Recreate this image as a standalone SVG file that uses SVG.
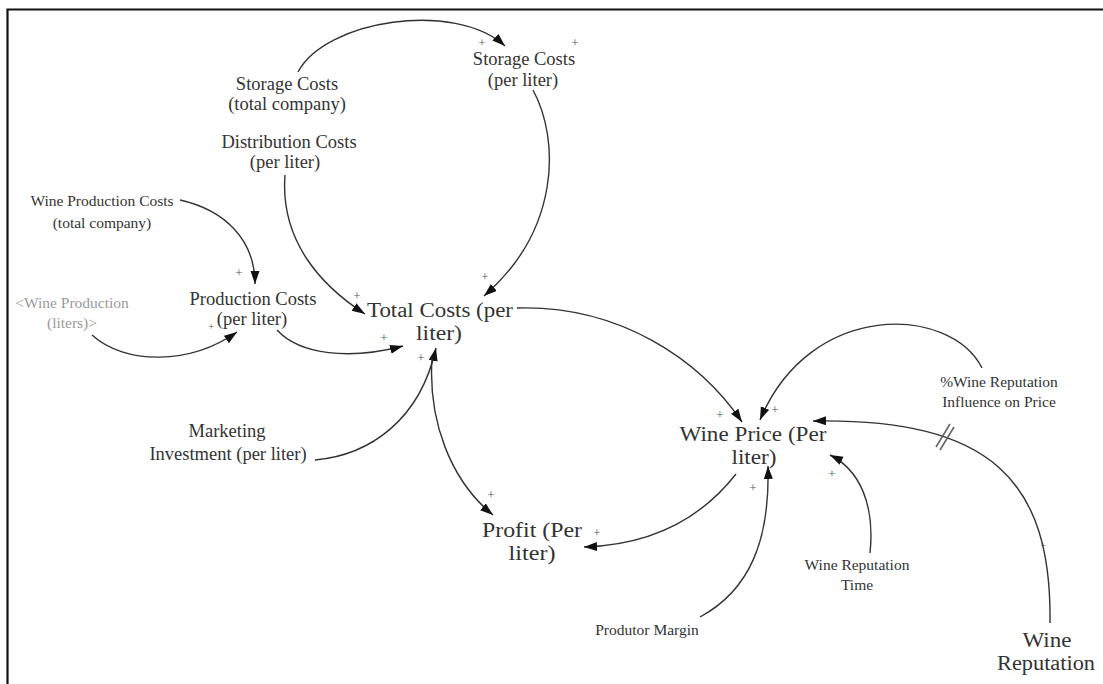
<svg xmlns="http://www.w3.org/2000/svg" width="1103" height="684" viewBox="0 0 1103 684">
  <style>
    .t { font-family: "Liberation Serif", "Tinos", "DejaVu Serif", "Times New Roman", serif; fill: #333; text-anchor: middle; }
    .lg { font-size: 20.5px; }
    .md { font-size: 18.5px; }
    .sm { font-size: 15.5px; }
    .ghost { fill: #9a9a9a; }
    .pol { font-family: "Liberation Serif", "DejaVu Serif", serif; font-size: 13px; fill: #555; text-anchor: middle; }
    .link { fill: none; stroke: #333; stroke-width: 1.4; marker-end: url(#head); }
    .frame { stroke: #111; stroke-width: 2.2; fill: none; }
  </style>
  <defs>
    <marker id="head" markerUnits="userSpaceOnUse" markerWidth="14" markerHeight="10" refX="13" refY="4.5" orient="auto">
      <path d="M0,0 L13,4.5 L0,9 z" fill="#111"/>
    </marker>
  </defs>

  <rect width="1103" height="684" fill="#fff"/>
  <!-- page frame -->
  <path class="frame" d="M7.5,684 L7.5,9.5 L1103,9.5"/>

  <!-- causal links -->
  <g id="connectors">
    <path class="link" d="M298,72 C325,20 455,0 505,46"/>
    <path class="link" d="M533,90 C560,140 560,230 484,296"/>
    <path class="link" d="M285,175 C280,240 320,285 365,314"/>
    <path class="link" d="M180,200 C225,210 255,240 255,284"/>
    <path class="link" d="M92,335 C125,365 190,365 237,332"/>
    <path class="link" d="M277,330 C300,355 350,360 403,346"/>
    <path class="link" d="M315,460 C370,455 420,420 436,348"/>
    <path class="link" d="M432,358 C428,420 450,480 493,515"/>
    <path class="link" d="M517,308 C620,305 700,360 742,422"/>
    <path class="link" d="M982,368 C950,305 810,300 760,420"/>
    <path class="link" d="M1050,623 C1052,480 990,418 813,421"/>
    <path class="link" d="M870,553 C875,505 860,470 830,455"/>
    <path class="link" d="M700,617 C750,590 770,540 768,466"/>
    <path class="link" d="M736,474 C700,520 650,545 584,547"/>
    <!-- delay mark -->
    <path d="M936,447 L950,424 M940,450 L954,427" stroke="#666" stroke-width="1.6" fill="none"/>
    <!-- polarity signs -->
    <text class="pol" x="482" y="47">+</text>
    <text class="pol" x="575" y="47">+</text>
    <text class="pol" x="485" y="281">+</text>
    <text class="pol" x="357" y="300">+</text>
    <text class="pol" x="239" y="277">+</text>
    <text class="pol" x="211" y="330" style="font-size:10px">+</text>
    <text class="pol" x="384" y="342">+</text>
    <text class="pol" x="421" y="362">+</text>
    <text class="pol" x="491" y="499">+</text>
    <text class="pol" x="720" y="419">+</text>
    <text class="pol" x="775" y="414">+</text>
    <text class="pol" x="832" y="478">+</text>
    <text class="pol" x="753" y="492">+</text>
    <text class="pol" x="597" y="537">+</text>
    <text class="pol" x="1043" y="549" style="font-size:10px">+</text>
  </g>

  <g id="storage-total"><text class="t md" x="287" y="90">Storage Costs</text><text class="t md" x="287" y="110">(total company)</text></g>
  <g id="storage-liter"><text class="t md" x="524" y="65">Storage Costs</text><text class="t md" x="523" y="86">(per liter)</text></g>
  <g id="distribution"><text class="t md" x="289" y="148">Distribution Costs</text><text class="t md" x="285" y="168">(per liter)</text></g>
  <g id="wine-production-costs"><text class="t sm" x="102" y="206">Wine Production Costs</text><text class="t sm" x="102" y="228">(total company)</text></g>
  <g id="wine-production"><text class="t sm ghost" x="72" y="308">&lt;Wine Production</text><text class="t sm ghost" x="72" y="328">(liters)&gt;</text></g>
  <g id="production-costs"><text class="t md" x="253" y="305">Production Costs</text><text class="t md" x="252" y="325">(per liter)</text></g>
  <g id="total-costs"><text class="t lg" x="440" y="317" textLength="146" lengthAdjust="spacingAndGlyphs">Total Costs (per</text><text class="t lg" x="439" y="340" textLength="46" lengthAdjust="spacingAndGlyphs">liter)</text></g>
  <g id="marketing"><text class="t md" x="227" y="437">Marketing</text><text class="t md" x="228" y="460">Investment (per liter)</text></g>
  <g id="wine-price"><text class="t lg" x="753" y="441" textLength="147" lengthAdjust="spacingAndGlyphs">Wine Price (Per</text><text class="t lg" x="754" y="464" textLength="45" lengthAdjust="spacingAndGlyphs">liter)</text></g>
  <g id="profit"><text class="t lg" x="532" y="537" textLength="100" lengthAdjust="spacingAndGlyphs">Profit (Per</text><text class="t lg" x="532" y="560" textLength="47" lengthAdjust="spacingAndGlyphs">liter)</text></g>
  <g id="produtor-margin"><text class="t sm" x="647" y="635">Produtor Margin</text></g>
  <g id="reputation-time"><text class="t sm" x="857" y="570">Wine Reputation</text><text class="t sm" x="857" y="590">Time</text></g>
  <g id="reputation-influence"><text class="t sm" x="999" y="387">%Wine Reputation</text><text class="t sm" x="999" y="407">Influence on Price</text></g>
  <g id="wine-reputation"><text class="t lg" x="1047" y="647" textLength="49" lengthAdjust="spacingAndGlyphs">Wine</text><text class="t lg" x="1046" y="670" textLength="98" lengthAdjust="spacingAndGlyphs">Reputation</text></g>
</svg>
